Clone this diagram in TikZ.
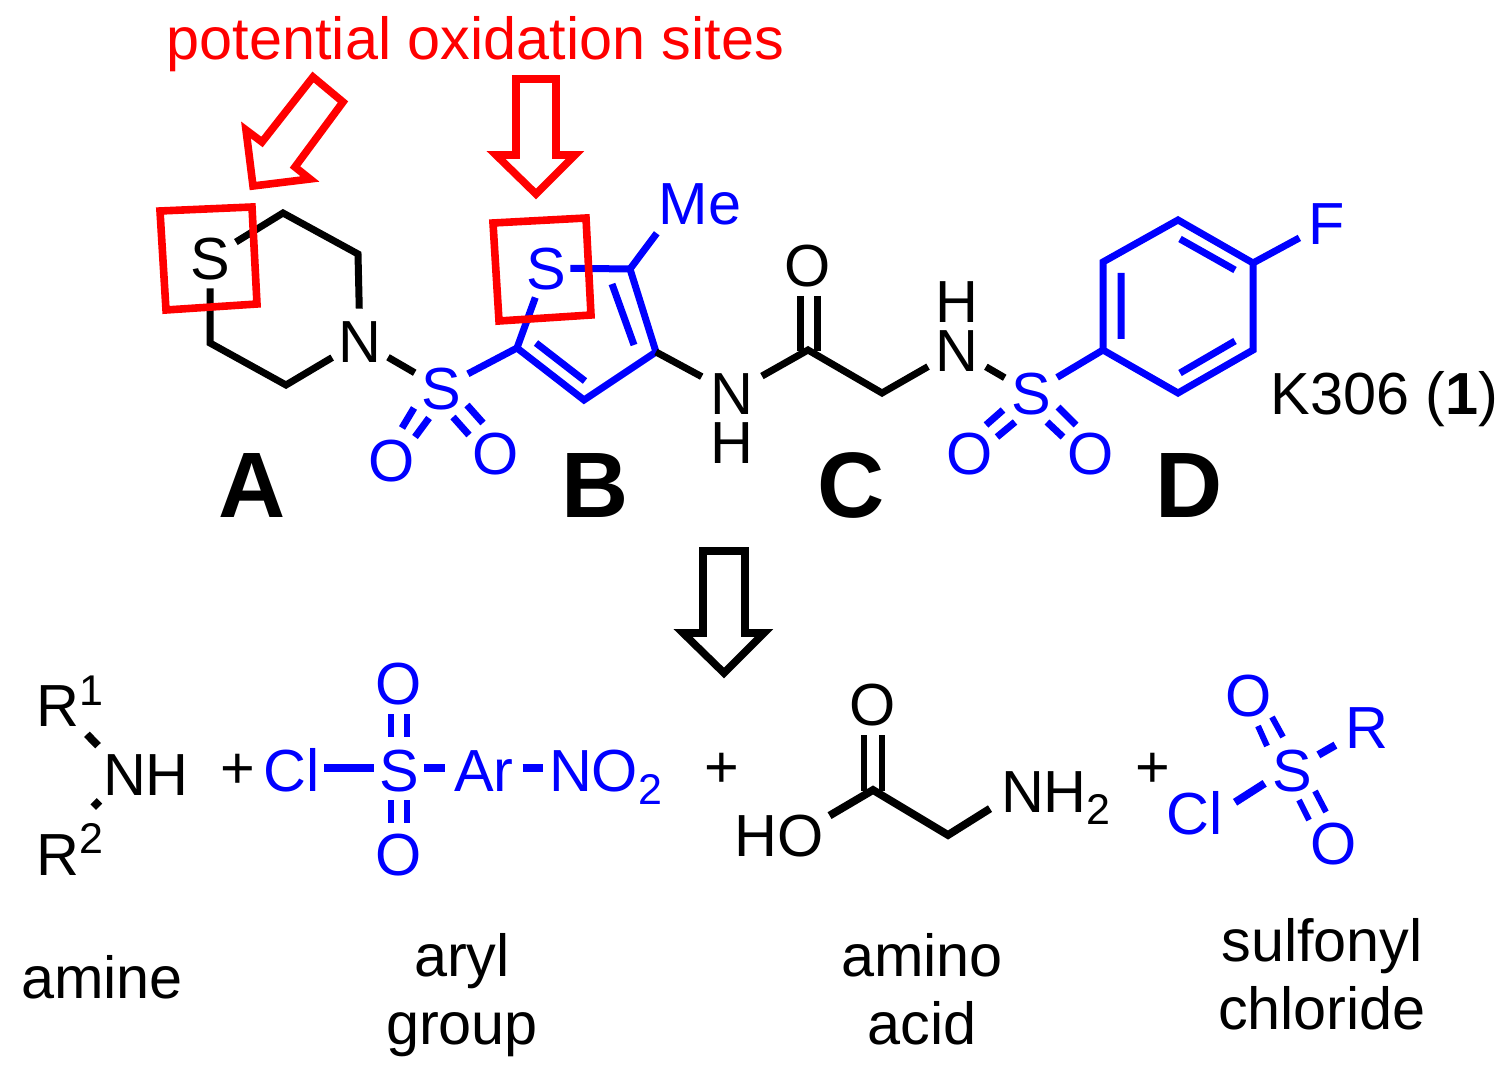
\documentclass[tikz,border=0pt]{standalone}
\usepackage{fontspec}
\setmainfont{Liberation Sans}
\definecolor{pblue}{RGB}{0,0,255}
\definecolor{pred}{RGB}{255,0,0}
\newcommand{\fsn}{\fontsize{29.7}{34}\selectfont}
\newcommand{\lil}[1]{{\fontsize{21.5}{21.5}\selectfont #1}}
\tikzset{
  atom/.style={circle,inner sep=0pt,minimum size=#1,text height=21.3pt,text depth=0pt,font=\fsn},
  atom/.default=30pt,
  txt/.style={inner sep=0pt,font=\fsn},
  grp/.style={rectangle,inner sep=0pt,text height=21.3pt,text depth=0pt,font=\fsn},
  rowgrp/.style={rectangle,inner sep=0pt,text height=23pt,text depth=0pt,font=\fsn},
  big/.style={inner sep=0pt,anchor=base,font=\fontsize{46.5}{46.5}\selectfont\bfseries},
  bond/.style={line width=3.5pt,miter limit=10},
  fatbond/.style={line width=3.9pt},
  dbl/.style={line width=3pt},
  redbox/.style={draw=pred,line width=3.8pt,miter limit=10},
  hollow/.style={line width=3.8pt,miter limit=10},
}
\begin{document}
\begin{tikzpicture}[x=0.5pt,y=-0.5pt]
\useasboundingbox (0,0) rectangle (1503,1080);
% ---- titles and labels
\node[txt,pred,anchor=base] (title) at (475.5,60) {potential oxidation sites};
\node[big] (la) at (252,517) {A};
\node[big] (lb) at (595,517) {B};
\node[big] (lc) at (851,517) {C};
\node[big] (ld) at (1189,517) {D};
\node[txt,anchor=base west] (k) at (1270,414) {K306 (\textbf{1})};
% ---- ring A
\node[atom] (sa) at (210,258) {S};
\node[atom=32pt] (na) at (360,341) {N};
\coordinate (a1) at (283,213);
\coordinate (a2) at (358,254);
\coordinate (a3) at (210,343);
\coordinate (a4) at (286,385);
\draw[bond] (sa) -- (a1) -- (a2) -- (na);
\draw[bond] (sa) -- (a3) -- (a4) -- (na);
% ---- first sulfonyl
\node[atom,pblue] (s1) at (441,388) {S};
\node[atom,pblue] (o1) at (392,460) {O};
\node[atom,pblue] (o2) at (496,453) {O};
\draw[bond] (na) -- (s1);
\coordinate (q1) at (414,408); \coordinate (q2) at (402,428);
\coordinate (q3) at (429,418); \coordinate (q4) at (415,437);
\coordinate (q5) at (453,417); \coordinate (q6) at (469,435);
\coordinate (q7) at (467,405); \coordinate (q8) at (483,423);
\draw[bond,pblue] (q1) -- (q2) (q3) -- (q4) (q5) -- (q6) (q7) -- (q8);
% ---- thiophene B
\node[atom=31pt,pblue] (st) at (546,268) {S};
\node[grp,pblue,outer ysep=4.5pt,outer xsep=1pt] (me) at (700,203) {Me};
\coordinate (c2) at (630,269);
\coordinate (c3) at (656,352);
\coordinate (c4) at (584,400);
\coordinate (c5) at (517,348);
\draw[bond,pblue,shorten <=-3.5pt] (st) -- (c2) -- (c3) -- (c4) -- (c5) -- (st);
\draw[bond,pblue] (s1) -- (c5);
\draw[bond,pblue] (c2) -- (me.south west);
\coordinate (d1) at (536,343); \coordinate (d2) at (585,381);
\coordinate (d3) at (612,284); \coordinate (d4) at (634,345);
\draw[bond,pblue] (d1) -- (d2) (d3) -- (d4);
% ---- linker C
\node[atom=34pt] (nb) at (732,393) {N};
\node[grp] (hb) at (732,442) {H};
\node[atom] (oc) at (808,265) {O};
\node[atom=33pt] (nc) at (957,350) {N};
\node[grp] (hc) at (957,301) {H};
\coordinate (cc) at (808,350);
\coordinate (ch) at (882,393);
\draw[bond] (c3) -- (nb);
\draw[bond] (nb) -- (cc) -- (ch) -- (nc);
\coordinate (e1) at (800,296); \coordinate (e2) at (800,351);
\coordinate (e3) at (817,296); \coordinate (e4) at (817,351);
\draw[bond] (e1) -- (e2) (e3) -- (e4);
% ---- second sulfonyl
\node[atom,pblue] (s2) at (1031,393) {S};
\node[atom,pblue] (o3) at (970,453) {O};
\node[atom,pblue] (o4) at (1091,453) {O};
\draw[bond] (nc) -- (s2);
\coordinate (f1) at (1003,410); \coordinate (f2) at (986,425);
\coordinate (f3) at (1015,422); \coordinate (f4) at (997,437);
\coordinate (f5) at (1047,422); \coordinate (f6) at (1063,437);
\coordinate (f7) at (1058,407); \coordinate (f8) at (1076,425);
\draw[bond,pblue] (f1) -- (f2) (f3) -- (f4) (f5) -- (f6) (f7) -- (f8);
% ---- aryl D
\node[atom=31pt,pblue] (fl) at (1327,223) {F};
\coordinate (b1) at (1103,350);
\coordinate (b2) at (1103,262);
\coordinate (b3) at (1178,220);
\coordinate (b4) at (1253,263);
\coordinate (b5) at (1253,350);
\coordinate (b6) at (1178,393);
\draw[bond,pblue] (b1) -- (b2) -- (b3) -- (b4) -- (b5) -- (b6) -- cycle;
\draw[bond,pblue] (s2) -- (b1);
\draw[bond,pblue] (b4) -- (fl);
\coordinate (g1) at (1121,273); \coordinate (g2) at (1121,339);
\coordinate (g3) at (1180,239); \coordinate (g4) at (1235,270);
\coordinate (g5) at (1180,373); \coordinate (g6) at (1235,341);
\draw[bond,pblue] (g1) -- (g2) (g3) -- (g4) (g5) -- (g6);
% ---- red squares and arrows
\draw[redbox] (160,211) -- (252,207) -- (257,304) -- (166,310) -- cycle;
\draw[redbox] (493,223) -- (586,218) -- (591,315) -- (499,321) -- cycle;
\draw[hollow,draw=pred] (313,77) -- (343,102) -- (295,167) -- (310,179) -- (253,186) -- (246,130) -- (262,142) -- cycle;
\draw[hollow,draw=pred] (516,79) -- (556,79) -- (556,155) -- (575,155) -- (536,194) -- (496,155) -- (516,155) -- cycle;
% ---- black retro arrow
\draw[hollow,draw=black] (703,551) -- (745,551) -- (745,633) -- (764,633) -- (724,673) -- (683,633) -- (703,633) -- cycle;
% ---- amine
\node[grp,outer ysep=4pt] (r1) at (70,705) {R\raisebox{10.5pt}{\lil{1}}};
\node[grp,outer xsep=2.5pt,outer ysep=3.5pt,anchor=west] (nh) at (98,774) {NH};
\node[grp,outer ysep=13.5pt] (r2) at (70,854) {R\raisebox{11pt}{\lil{2}}};
\draw[fatbond] (r1.-60) -- (nh.north west);
\draw[fatbond,shorten <=-1pt,shorten >=-1pt] (r2.63) -- (nh.south west);
\node[txt] (p1) at (238,771) {+};
% ---- aryl sulfonyl chloride
\node[rowgrp,pblue,outer xsep=2pt] (cl1) at (292,768) {Cl};
\node[rowgrp,pblue,outer xsep=2.5pt] (s3) at (399,768) {S};
\node[rowgrp,pblue,outer xsep=4.5pt] (ar) at (484,768) {Ar};
\node[rowgrp,pblue,outer xsep=3pt,anchor=west] (no) at (543,768) {NO\raisebox{-6.5pt}{\lil{2}}};
\node[atom,pblue] (o5) at (399,683) {O};
\node[atom,pblue] (o6) at (399,854) {O};
\draw[fatbond,pblue] (cl1.east) -- (s3.west);
\draw[fatbond,pblue] (s3.east) -- (ar.west);
\draw[fatbond,pblue] (ar.east) -- (no.west);
\coordinate (h1) at (391,714); \coordinate (h2) at (391,737);
\coordinate (h3) at (407,714); \coordinate (h4) at (407,737);
\coordinate (h5) at (391,800); \coordinate (h6) at (391,823);
\coordinate (h7) at (407,800); \coordinate (h8) at (407,823);
\draw[dbl,pblue] (h1) -- (h2) (h3) -- (h4) (h5) -- (h6) (h7) -- (h8);
\node[txt] (p2) at (722,770) {+};
% ---- amino acid
\node[atom] (o7) at (873,704) {O};
\node[grp,outer xsep=3pt] (ho) at (779,835) {HO};
\node[grp,outer xsep=5.5pt,anchor=west] (nt) at (990,791) {NH\raisebox{-6pt}{\lil{2}}};
\coordinate (ca) at (873,790);
\coordinate (cb) at (948,835);
\draw[fatbond] (ho.21) -- (ca) -- (cb) -- (nt.195);
\coordinate (i1) at (864,735); \coordinate (i2) at (864,791);
\coordinate (i3) at (882,735); \coordinate (i4) at (882,791);
\draw[dbl] (i1) -- (i2) (i3) -- (i4);
\node[txt] (p3) at (1153,770) {+};
% ---- sulfonyl chloride
\node[atom,pblue] (s4) at (1292,770) {S};
\node[atom,pblue] (o8) at (1249,695) {O};
\node[atom,pblue] (o9) at (1334,843) {O};
\node[atom=36pt,pblue] (rr) at (1367,727) {R};
\node[grp,pblue,outer xsep=6pt] (cl2) at (1195,813) {Cl};
\draw[fatbond,pblue] (s4.206) -- (cl2.15);
\draw[fatbond,pblue] (s4) -- (rr);
\coordinate (j1) at (1272,717); \coordinate (j2) at (1283,737);
\coordinate (j3) at (1258,726); \coordinate (j4) at (1267,746);
\coordinate (j5) at (1299,800); \coordinate (j6) at (1309,820);
\coordinate (j7) at (1315,791); \coordinate (j8) at (1326,812);
\draw[dbl,pblue] (j1) -- (j2) (j3) -- (j4) (j5) -- (j6) (j7) -- (j8);
% ---- captions
\node[txt,anchor=base] (c1) at (102,998) {amine};
\node[txt,align=center,anchor=north] (c2t) at (462,933) {aryl\\group};
\node[txt,align=center,anchor=north] (c3t) at (922,933) {amino\\acid};
\node[txt,align=center,anchor=north] (c4t) at (1322,918) {sulfonyl\\chloride};
\end{tikzpicture}
\end{document}
